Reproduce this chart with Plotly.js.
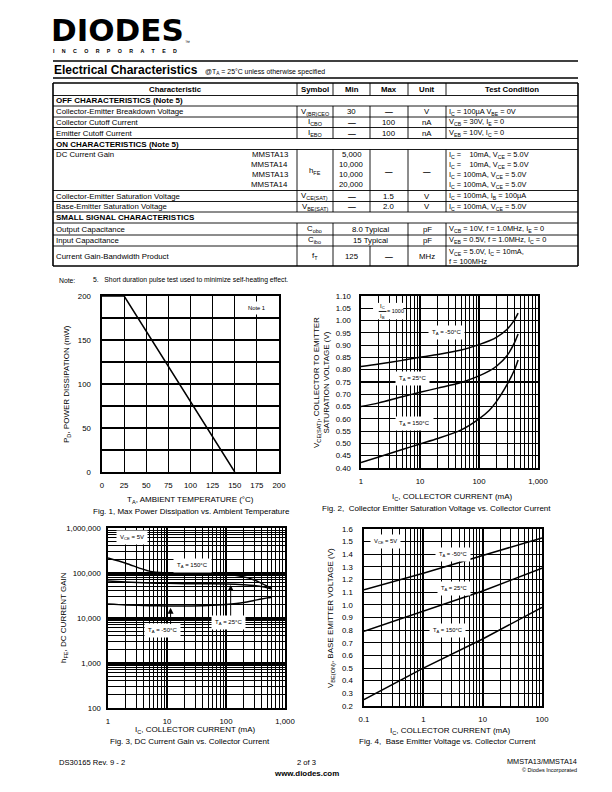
<!DOCTYPE html>
<html><head><meta charset="utf-8">
<script src="https://cdn.plot.ly/plotly-3.0.1.min.js"></script>
<style>html,body{margin:0;padding:0;background:#fff}#chart{width:612px;height:792px}</style>
</head><body><div id="chart"></div>
<script>
// ================= DATA =================
// Fig. 1 Max power dissipation vs ambient temperature
const fig1Temp = [0, 25, 150];
const fig1Power = [200, 200, 0];
const fig1XTicks = [0, 25, 50, 75, 100, 125, 150, 175, 200];
const fig1YTicks = [0, 50, 100, 150, 200];

// Fig. 2 VCE(SAT) vs IC (Ic/Ib = 1000)
const fig2Current = [1, 2, 5, 10, 20, 50, 100, 150, 200, 300, 400, 460];
const fig2VceM50 = [0.813, 0.823, 0.838, 0.851, 0.862, 0.880, 0.902, 0.918, 0.933, 0.965, 1.003, 1.030];
const fig2Vce25  = [0.650, 0.665, 0.690, 0.708, 0.725, 0.748, 0.775, 0.795, 0.815, 0.858, 0.910, 0.945];
const fig2Vce150 = [0.422, 0.445, 0.475, 0.498, 0.520, 0.555, 0.600, 0.635, 0.672, 0.740, 0.800, 0.840];
const fig2YTicks = ['0.40','0.45','0.50','0.55','0.60','0.65','0.70','0.75','0.80','0.85','0.90','0.95','1.00','1.05','1.10'];
const fig2XTickVals = [1, 10, 100, 1000];
const fig2XTickText = ['1', '10', '100', '1,000'];

// Fig. 3 hFE vs IC (VCE = 5V)
const fig3Current = [1, 2, 5, 10, 20, 50, 100, 200, 300, 400, 500, 600];
const fig3Hfe150 = [215000, 165000, 110000, 100000, 97000, 95000, 94000, 82000, 70000, 59000, 51000, 45000];
const fig3Hfe25  = [66000, 63000, 60000, 59000, 58000, 57500, 57000, 55000, 53000, 50000, 47000, 44000];
const fig3HfeM50 = [20500, 19500, 18800, 18500, 18500, 19000, 20000, 22000, 24500, 26500, 28000, 29000];
const fig3YTickVals = [100, 1000, 10000, 100000, 1000000];
const fig3YTickText = ['100', '1,000', '10,000', '100,000', '1,000,000'];
const fig3XTickVals = [1, 10, 100, 1000];
const fig3XTickText = ['1', '10', '100', '1,000'];

// Fig. 4 VBE(ON) vs IC (VCE = 5V)
const fig4Current = [0.1, 1, 10, 100];
const fig4VbeM50 = [1.12, 1.25, 1.39, 1.53];
const fig4Vbe25  = [0.79, 0.95, 1.11, 1.29];
const fig4Vbe150 = [0.25, 0.50, 0.73, 0.98];
const fig4YTicks = ['0.2','0.3','0.4','0.5','0.6','0.7','0.8','0.9','1.0','1.1','1.2','1.3','1.4','1.5','1.6'];
const fig4XTickVals = [0.1, 1, 10, 100];
const fig4XTickText = ['0.1', '1', '10', '100'];

// Electrical characteristics table
const tableHeader = ['Characteristic', 'Symbol', 'Min', 'Max', 'Unit', 'Test Condition'];
const rowKind = ['sec','row','row','row','sec','multi','row','row','sec','span','span','row2'];
const colCharacteristic = ['OFF CHARACTERISTICS (Note 5)', 'Collector-Emitter Breakdown Voltage', 'Collector Cutoff Current', 'Emitter Cutoff Current', 'ON CHARACTERISTICS (Note 5)', 'DC Current Gain', 'Collector-Emitter Saturation Voltage', 'Base-Emitter Saturation Voltage', 'SMALL SIGNAL CHARACTERISTICS', 'Output Capacitance', 'Input Capacitance', 'Current Gain-Bandwidth Product'];
const colSymbol = ['', 'V<sub>(BR)CEO</sub>', 'I<sub>CBO</sub>', 'I<sub>EBO</sub>', '', 'h<sub>FE</sub>', 'V<sub>CE(SAT)</sub>', 'V<sub>BE(SAT)</sub>', '', 'C<sub>obo</sub>', 'C<sub>ibo</sub>', 'f<sub>T</sub>'];
const colMin = ['', '30', '—', '—', '', '', '—', '—', '', '8.0 Typical', '15 Typical', '125'];
const colMax = ['', '—', '100', '100', '', '—', '1.5', '2.0', '', '', '', '—'];
const colUnit = ['', 'V', 'nA', 'nA', '', '—', 'V', 'V', '', 'pF', 'pF', 'MHz'];
const colCondition = ['', 'I<sub>C</sub> = 100µA V<sub>BE</sub> = 0V', 'V<sub>CB</sub> = 30V, I<sub>E</sub> = 0', 'V<sub>EB</sub> = 10V, I<sub>C</sub> = 0', '', '', 'I<sub>C</sub> = 100mA, I<sub>B</sub> = 100µA', 'I<sub>C</sub> = 100mA, V<sub>CE</sub> = 5.0V', '', 'V<sub>CB</sub> = 10V, f = 1.0MHz, I<sub>E</sub> = 0', 'V<sub>EB</sub> = 0.5V, f = 1.0MHz, I<sub>C</sub> = 0', 'V<sub>CE</sub> = 5.0V, I<sub>C</sub> = 10mA,<br>f = 100MHz'];
const hfeDevices = ['MMSTA13', 'MMSTA14', 'MMSTA13', 'MMSTA14'];
const hfeMin = ['5,000', '10,000', '10,000', '20,000'];
const hfeCondition = ['I<sub>C</sub> =\u00a0\u00a0\u00a0 10mA, V<sub>CE</sub> = 5.0V', 'I<sub>C</sub> =\u00a0\u00a0\u00a0 10mA, V<sub>CE</sub> = 5.0V', 'I<sub>C</sub> = 100mA, V<sub>CE</sub> = 5.0V', 'I<sub>C</sub> = 100mA, V<sub>CE</sub> = 5.0V'];

// ================= LAYOUT HELPERS =================
const W = 612, H = 792;
const FONT = 'Liberation Sans, Arial, Helvetica, sans-serif';
const X = p => p / W;
const Y = p => 1 - p / H;
const annotations = [];
const shapes = [];
function txt(x, y, text, o) {
  o = o || {};
  annotations.push({xref:'paper', yref:'paper', x:X(x), y:Y(y), text:text, showarrow:false,
    xanchor:o.xa || 'left', yanchor:o.ya || 'middle', align:o.align || (o.xa === 'center' ? 'center' : (o.xa === 'right' ? 'right' : 'left')),
    textangle:o.angle || 0, borderpad:0,
    font:{family:o.family || FONT, size:o.size || 7, color:'#000'}});
}
function hline(x0, x1, y, w) {
  shapes.push({type:'line', xref:'paper', yref:'paper', x0:X(x0), x1:X(x1), y0:Y(y), y1:Y(y), line:{color:'#000', width:w || 1}});
}
function vline(x, y0, y1, w) {
  shapes.push({type:'line', xref:'paper', yref:'paper', x0:X(x), x1:X(x), y0:Y(y0), y1:Y(y1), line:{color:'#000', width:w || 1}});
}

// ---- Header / logo ----
txt(50, 30, '<b>DIODES</b>', {family:'DejaVu Sans, Liberation Sans', size:31});
const logoSub = 'INCORPORATED'.split('');
txt(52, 50.5, '<b>' + logoSub.join('\u00a0\u00a0\u00a0\u00a0\u00a0') + '</b>', {size:5.3});
txt(184, 42, '™', {size:5});
hline(53, 578, 61, 1.5);
txt(53, 70, '<b>Electrical Characteristics</b>', {size:12});
txt(204, 71.5, '@T<sub>A</sub> = 25°C unless otherwise specified', {size:6.9});
hline(53, 578, 78, 1.5);

// ---- Table ----
const TS = 7.8, CS = 7.4;
const tableCols = [53, 297, 333, 370, 408, 446, 578];
const rowEdges = [83, 95.5, 106, 117, 127.5, 138.5, 149.5, 190.5, 201.5, 212, 223, 235, 246, 266];
const colCenters = [175, 315, 351.5, 389, 427, 512];
rowEdges.forEach((y, i) => hline(53, 578, y, (i === 0 || i === rowEdges.length - 1) ? 1.6 : 0.9));
vline(53, 83, 266, 1.6); vline(578, 83, 266, 1.6);
for (let c = 1; c < 6; c++) vline(tableCols[c], rowEdges[0], rowEdges[1], 0.9);
tableHeader.forEach((h, c) => txt(colCenters[c], (rowEdges[0] + rowEdges[1]) / 2, '<b>' + h + '</b>', {xa:'center', size:7.8}));
rowKind.forEach((kind, r) => {
  const top = rowEdges[r + 1], bot = rowEdges[r + 2], mid = (top + bot) / 2;
  if (kind === 'sec') { txt(55, mid, '<b>' + colCharacteristic[r] + '</b>', {size:8}); return; }
  for (let c = 1; c < 6; c++) {
    if (kind === 'span' && c === 3) continue;
    vline(tableCols[c], top, bot, 0.9);
  }
  if (kind === 'multi') {
    hfeDevices.forEach((d, i) => {
      const yy = top + 5.2 + i * 10;
      if (i === 0) txt(55, yy, colCharacteristic[r], {size:TS});
      txt(289, yy, d, {xa:'right', size:TS});
      txt(colCenters[2], yy, hfeMin[i], {xa:'center', size:TS});
      txt(448, yy, hfeCondition[i], {size:CS});
    });
    txt(colCenters[1], mid + 1, colSymbol[r], {xa:'center', size:TS});
    txt(colCenters[3], mid + 1, '<b>' + colMax[r] + '</b>', {xa:'center', size:7.5});
    txt(colCenters[4], mid + 1, '<b>' + colUnit[r] + '</b>', {xa:'center', size:7.5});
    return;
  }
  txt(55, mid, colCharacteristic[r], {size:TS});
  txt(colCenters[1], mid, colSymbol[r], {xa:'center', size:TS});
  const dash = s => s === '—' ? '<b>—</b>' : s;
  if (kind === 'span') {
    txt((tableCols[2] + tableCols[4]) / 2, mid, colMin[r], {xa:'center', size:TS});
  } else {
    txt(colCenters[2], mid, dash(colMin[r]), {xa:'center', size:TS});
    txt(colCenters[3], mid, dash(colMax[r]), {xa:'center', size:TS});
  }
  txt(colCenters[4], mid, colUnit[r], {xa:'center', size:TS});
  txt(448, mid, colCondition[r], {size:CS});
});
txt(58, 280, 'Note:', {size:6.8});
txt(92, 280, '5.\u00a0\u00a0 Short duration pulse test used to minimize self-heating effect.', {size:6.8});

// ---- Footer ----
txt(58, 762, 'DS30165 Rev. 9 - 2', {size:7.6});
txt(306, 762, '2 of 3', {xa:'center', size:7.6});
txt(306, 773, '<b>www.diodes.com</b>', {xa:'center', size:7.9});
txt(578, 761, 'MMSTA13/MMSTA14', {xa:'right', size:7.3});
txt(578, 770, '© Diodes Incorporated', {xa:'right', size:5.5});

// ---- Chart domains ----
const dom = {
  f1:{x:[102, 279], y:[296, 472]},
  f2:{x:[361, 538], y:[296, 468]},
  f3:{x:[108, 285], y:[528, 708]},
  f4:{x:[364, 542], y:[529, 706]}
};
const dx = d => [X(d.x[0]), X(d.x[1])];
const dy = d => [Y(d.y[1]), Y(d.y[0])];

function axisBase(extra) {
  return Object.assign({showgrid:true, gridcolor:'#000', gridwidth:1.1, showline:true, mirror:true,
    linecolor:'#000', linewidth:1.6, ticks:'', zeroline:false, fixedrange:true,
    tickfont:{family:FONT, size:7.8, color:'#000'}}, extra);
}
function logMinor(e0, e1) {
  const v = [];
  for (let e = e0; e < e1; e++) for (let m = 2; m <= 9; m++) v.push(+(m * Math.pow(10, e)).toPrecision(3));
  return v;
}
const tv = arr => arr.map(Number);

// axis titles & captions
const AT = 8;
txt(190, 500, 'T<sub>A</sub>, AMBIENT TEMPERATURE (°C)', {xa:'center', size:AT});
txt(191, 511, 'Fig. 1, Max Power Dissipation vs. Ambient Temperature', {xa:'center', size:AT});
txt(67, 384, 'P<sub>D</sub>, POWER DISSIPATION (mW)', {xa:'center', angle:-90, size:AT});
txt(452, 497, 'I<sub>C</sub>, COLLECTOR CURRENT (mA)', {xa:'center', size:AT});
txt(436, 508, 'Fig. 2,\u00a0 Collector Emitter Saturation Voltage vs. Collector Current', {xa:'center', size:AT});
txt(321, 383, 'V<sub>CE(SAT)</sub>, COLLECTOR TO EMITTER<br>SATURATION VOLTAGE (V)', {xa:'center', angle:-90, size:AT});
txt(196, 730, 'I<sub>C</sub>, COLLECTOR CURRENT (mA)', {xa:'center', size:AT});
txt(190, 741, 'Fig. 3, DC Current Gain vs. Collector Current', {xa:'center', size:AT});
txt(64, 618, 'h<sub>FE</sub>, DC CURRENT GAIN', {xa:'center', angle:-90, size:AT});
txt(450, 731, 'I<sub>C</sub>, COLLECTOR CURRENT (mA)', {xa:'center', size:AT});
txt(447, 741, 'Fig. 4,\u00a0 Base Emitter Voltage vs. Collector Current', {xa:'center', size:AT});
txt(331, 618, 'V<sub>BE(ON)</sub>, BASE EMITTER VOLTAGE (V)', {xa:'center', angle:-90, size:AT});

// in-chart labels
function lab(xr, yr, x, y, text, o) {
  o = o || {};
  annotations.push({xref:xr, yref:yr, x:x, y:y, text:text, showarrow:false, bgcolor:'#fff',
    borderpad:o.pad === undefined ? 3 : o.pad, xanchor:'center', yanchor:'middle',
    font:{family:FONT, size:o.size || 6, color:'#000'}});
}
const L = Math.log10;
lab('x', 'y', 175, 186, 'Note 1', {size:5.8});
// fig 2
lab('x2', 'y2', L(28), 0.953, 'T<sub>A</sub> = -50°C');
lab('x2', 'y2', L(7.5), 0.763, 'T<sub>A</sub> = 25°C');
lab('x2', 'y2', L(8), 0.58, 'T<sub>A</sub> = 150°C');
// fraction Ic/Ib = 1000 (white box + text)
const f2px = v => dom.f2.x[0] + (L(v) / 3) * (dom.f2.x[1] - dom.f2.x[0]);
const f2py = v => dom.f2.y[1] - (v - 0.4) / 0.7 * (dom.f2.y[1] - dom.f2.y[0]);
shapes.push({type:'rect', xref:'paper', yref:'paper', layer:'above', x0:X(f2px(1.6)), x1:X(f2px(5.2)), y0:Y(f2py(1.005)), y1:Y(f2py(1.072)), fillcolor:'#fff', line:{width:0}});
shapes.push({type:'line', xref:'paper', yref:'paper', layer:'above', x0:X(f2px(2.0)), x1:X(f2px(2.7)), y0:Y(f2py(1.037)), y1:Y(f2py(1.037)), line:{color:'#000', width:0.9}});
annotations.push({xref:'x2', yref:'y2', x:L(2.35), y:1.056, text:'I<sub>C</sub>', showarrow:false, font:{family:FONT, size:6}});
annotations.push({xref:'x2', yref:'y2', x:L(2.35), y:1.018, text:'I<sub>B</sub>', showarrow:false, font:{family:FONT, size:6}});
annotations.push({xref:'x2', yref:'y2', x:L(3.8), y:1.037, text:'= 1000', showarrow:false, font:{family:FONT, size:5.5}});
// fig 3
lab('x3', 'y3', L(2.6), L(600000), 'V<sub>CE</sub> = 5V');
lab('x3', 'y3', L(27), L(150000), 'T<sub>A</sub> = 150°C');
lab('x3', 'y3', L(8.5), L(5200), 'T<sub>A</sub> = -50°C');
lab('x3', 'y3', L(110), L(8000), 'T<sub>A</sub> = 25°C');
annotations.push({xref:'x3', yref:'y3', axref:'x3', ayref:'y3', x:L(11.5), y:L(16800), ax:L(11.5), ay:L(6800), text:'', showarrow:true, arrowhead:2, arrowsize:1.2, arrowwidth:1, arrowcolor:'#000'});
annotations.push({xref:'x3', yref:'y3', axref:'x3', ayref:'y3', x:L(120), y:L(54000), ax:L(120), ay:L(10500), text:'', showarrow:true, arrowhead:2, arrowsize:1.2, arrowwidth:1, arrowcolor:'#000'});
// fig 4
lab('x4', 'y4', L(0.23), 1.504, 'V<sub>CE</sub> = 5V', {size:5.8});
lab('x4', 'y4', L(3.2), 1.40, 'T<sub>A</sub> = -50°C', {size:5.8});
lab('x4', 'y4', L(3.3), 1.127, 'T<sub>A</sub> = 25°C', {size:5.8});
lab('x4', 'y4', L(2.6), 0.80, 'T<sub>A</sub> = 150°C', {size:5.8});

// ================= TRACES =================
const lineStyle = {color:'#000', width:1.5};
const smooth = {color:'#000', width:1.5, shape:'spline', smoothing:0.8};
const traces = [
  {x:fig1Temp, y:fig1Power, xaxis:'x', yaxis:'y', mode:'lines', line:lineStyle, name:'P_D'},
  {x:fig2Current, y:fig2VceM50, xaxis:'x2', yaxis:'y2', mode:'lines', line:smooth, name:'TA=-50°C'},
  {x:fig2Current, y:fig2Vce25, xaxis:'x2', yaxis:'y2', mode:'lines', line:smooth, name:'TA=25°C'},
  {x:fig2Current, y:fig2Vce150, xaxis:'x2', yaxis:'y2', mode:'lines', line:smooth, name:'TA=150°C'},
  {x:fig3Current, y:fig3Hfe150, xaxis:'x3', yaxis:'y3', mode:'lines', line:smooth, name:'TA=150°C'},
  {x:fig3Current, y:fig3Hfe25, xaxis:'x3', yaxis:'y3', mode:'lines', line:smooth, name:'TA=25°C'},
  {x:fig3Current, y:fig3HfeM50, xaxis:'x3', yaxis:'y3', mode:'lines', line:smooth, name:'TA=-50°C'},
  {x:fig4Current, y:fig4VbeM50, xaxis:'x4', yaxis:'y4', mode:'lines', line:lineStyle, name:'TA=-50°C'},
  {x:fig4Current, y:fig4Vbe25, xaxis:'x4', yaxis:'y4', mode:'lines', line:lineStyle, name:'TA=25°C'},
  {x:fig4Current, y:fig4Vbe150, xaxis:'x4', yaxis:'y4', mode:'lines', line:lineStyle, name:'TA=150°C'}
];

const layout = {
  width:W, height:H, margin:{l:0, r:0, t:0, b:0}, paper_bgcolor:'#fff', plot_bgcolor:'#fff',
  showlegend:false, font:{family:FONT, size:7, color:'#000'},
  xaxis: axisBase({domain:dx(dom.f1), anchor:'y', range:[0, 200], tickmode:'array', tickvals:fig1XTicks, ticklabelstandoff:5}),
  yaxis: axisBase({domain:dy(dom.f1), anchor:'x', range:[0, 200], tickmode:'array', tickvals:fig1YTicks, ticklabelstandoff:8,
    minor:{tickmode:'array', tickvals:[25, 75, 125, 175], showgrid:true, gridcolor:'#000', gridwidth:1.1}}),
  xaxis2: axisBase({domain:dx(dom.f2), anchor:'y2', type:'log', range:[0, 3], tickmode:'array', tickvals:fig2XTickVals, ticktext:fig2XTickText, gridwidth:1.8, ticklabelstandoff:5,
    minor:{tickmode:'array', tickvals:logMinor(0, 3), showgrid:true, gridcolor:'#000', gridwidth:1}}),
  yaxis2: axisBase({domain:dy(dom.f2), anchor:'x2', range:[0.4, 1.1], tickmode:'array', tickvals:tv(fig2YTicks), ticktext:fig2YTicks, ticklabelstandoff:7}),
  xaxis3: axisBase({domain:dx(dom.f3), anchor:'y3', type:'log', range:[0, 3], tickmode:'array', tickvals:fig3XTickVals, ticktext:fig3XTickText, gridwidth:2, ticklabelstandoff:5,
    minor:{tickmode:'array', tickvals:logMinor(0, 3), showgrid:true, gridcolor:'#000', gridwidth:1}}),
  yaxis3: axisBase({domain:dy(dom.f3), anchor:'x3', type:'log', range:[2, 6], tickmode:'array', tickvals:fig3YTickVals, ticktext:fig3YTickText, gridwidth:3, ticklabelstandoff:4,
    minor:{tickmode:'array', tickvals:logMinor(2, 6), showgrid:true, gridcolor:'#000', gridwidth:1}}),
  xaxis4: axisBase({domain:dx(dom.f4), anchor:'y4', type:'log', range:[-1, 2], tickmode:'array', tickvals:fig4XTickVals, ticktext:fig4XTickText, gridwidth:1.8, ticklabelstandoff:5,
    minor:{tickmode:'array', tickvals:logMinor(-1, 2), showgrid:true, gridcolor:'#000', gridwidth:1}}),
  yaxis4: axisBase({domain:dy(dom.f4), anchor:'x4', range:[0.2, 1.6], tickmode:'array', tickvals:tv(fig4YTicks), ticktext:fig4YTicks, ticklabelstandoff:8}),
  annotations:annotations, shapes:shapes
};
Plotly.newPlot('chart', traces, layout, {staticPlot:true, displayModeBar:false});
</script>
</body></html>
